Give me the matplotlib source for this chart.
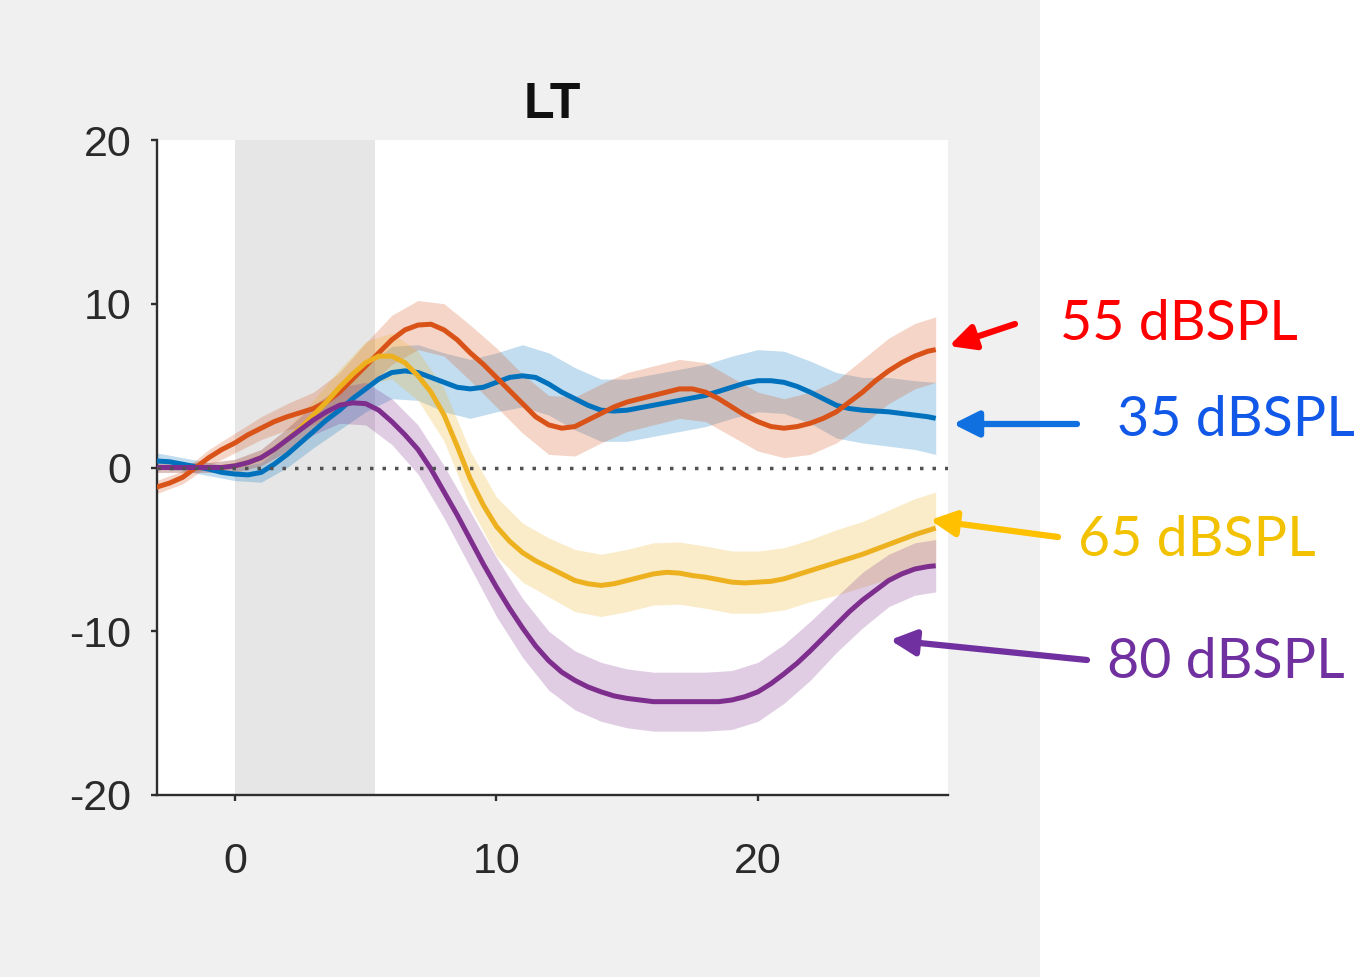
import matplotlib
matplotlib.use("Agg")
import matplotlib.pyplot as plt
import numpy as np
from matplotlib.patches import Rectangle

plt.rcParams["axes.unicode_minus"] = False

# Time axis (ms): mean traces sampled every 0.5 ms, SEM every 1 ms
t_line = list(np.arange(-3, 27, 0.5)) + [26.8]
t_band = list(np.arange(-3, 27, 1.0)) + [26.8]

resp_35 = [0.4, 0.35, 0.2, 0.05, -0.1, -0.3, -0.4, -0.45, -0.3, 0.2,
           0.8, 1.5, 2.2, 2.9, 3.5, 4.2, 4.8, 5.4, 5.8, 5.9,
           5.8, 5.5, 5.2, 4.9, 4.8, 4.9, 5.2, 5.5, 5.6, 5.5,
           5.1, 4.6, 4.2, 3.8, 3.5, 3.45, 3.5, 3.65, 3.8, 3.95,
           4.1, 4.25, 4.4, 4.65, 4.9, 5.15, 5.3, 5.3, 5.2, 4.95,
           4.6, 4.2, 3.8, 3.6, 3.5, 3.45, 3.4, 3.3, 3.2, 3.1,
           3.0]
sem_35 = [0.5, 0.4, 0.4, 0.4, 0.6, 0.8, 1.0, 1.2, 1.4, 1.6, 1.7, 1.8, 1.8, 1.8,
          1.9, 1.9, 1.9, 1.9, 1.9, 1.9, 1.9, 1.9, 1.9, 1.9, 1.9, 1.9, 2.0,
          2.0, 2.1, 2.1, 2.2]

resp_55 = [-1.2, -0.95, -0.6, 0.0, 0.6, 1.1, 1.5, 2.0, 2.4, 2.8,
           3.1, 3.35, 3.6, 4.0, 4.6, 5.4, 6.2, 7.0, 7.8, 8.4,
           8.7, 8.75, 8.4, 7.8, 7.0, 6.3, 5.5, 4.7, 3.9, 3.1,
           2.6, 2.4, 2.5, 2.9, 3.3, 3.7, 4.0, 4.2, 4.4, 4.6,
           4.8, 4.8, 4.6, 4.2, 3.7, 3.2, 2.8, 2.5, 2.4, 2.5,
           2.7, 3.0, 3.4, 4.0, 4.6, 5.3, 5.9, 6.4, 6.8, 7.1,
           7.2]
sem_55 = [0.4, 0.4, 0.5, 0.6, 0.7, 0.8, 1.0, 1.2, 1.4, 1.5, 1.5, 1.6, 1.7, 1.8,
          1.8, 1.8, 1.8, 1.8, 1.8, 1.8, 1.8, 1.8, 1.8, 1.8, 1.8, 1.9, 1.9,
          2.0, 2.0, 2.0, 2.0]

resp_65 = [0.0, 0.0, 0.0, 0.0, 0.0, 0.0, 0.1, 0.3, 0.6, 1.1,
           1.7, 2.4, 3.2, 4.0, 4.9, 5.7, 6.4, 6.8, 6.8, 6.4,
           5.6, 4.6, 3.2, 1.3, -0.7, -2.3, -3.6, -4.5, -5.2, -5.7,
           -6.1, -6.5, -6.9, -7.1, -7.2, -7.1, -6.9, -6.7, -6.5, -6.4,
           -6.45, -6.6, -6.7, -6.85, -7.0, -7.05, -7.0, -6.95, -6.8, -6.55,
           -6.3, -6.05, -5.8, -5.55, -5.3, -5.0, -4.7, -4.4, -4.1, -3.85,
           -3.7]
sem_65 = [0.3, 0.3, 0.3, 0.4, 0.5, 0.7, 0.9, 1.1, 1.3, 1.4, 1.5, 1.6, 1.7, 1.8,
          1.8, 1.8, 1.9, 1.9, 1.9, 1.9, 1.9, 1.9, 1.9, 1.9, 1.9, 1.9, 2.0,
          2.0, 2.1, 2.2, 2.2]

resp_80 = [0.0, 0.0, 0.0, 0.0, 0.0, 0.0, 0.1, 0.3, 0.6, 1.1,
           1.7, 2.3, 2.9, 3.4, 3.8, 3.95, 3.9, 3.5, 2.8, 2.0,
           1.1, -0.1, -1.5, -2.9, -4.4, -5.9, -7.3, -8.6, -9.8, -10.9,
           -11.8, -12.5, -13.0, -13.4, -13.7, -13.95, -14.1, -14.2, -14.3, -14.3,
           -14.3, -14.3, -14.3, -14.3, -14.2, -14.0, -13.7, -13.2, -12.6, -11.95,
           -11.2, -10.4, -9.6, -8.8, -8.1, -7.5, -6.9, -6.5, -6.2, -6.05,
           -6.0]
sem_80 = [0.3, 0.3, 0.3, 0.4, 0.5, 0.7, 0.9, 1.1, 1.3, 1.4, 1.5, 1.6, 1.7, 1.8,
          1.8, 1.8, 1.8, 1.8, 1.8, 1.8, 1.8, 1.8, 1.8, 1.8, 1.8, 1.8, 1.7,
          1.7, 1.6, 1.6, 1.6]

stim_on, stim_off = 0, 5.35
x_ticks = [0, 10, 20]
y_ticks = [-20, -10, 0, 10, 20]

series = [
    (resp_35, sem_35, "#0072BD"),
    (resp_55, sem_55, "#D95319"),
    (resp_65, sem_65, "#EDB120"),
    (resp_80, sem_80, "#7E2F8E"),
]

labels = [
    # text, text pos (px from top-left), arrow tail, arrow tip, text colour, arrow colour
    ("55 dBSPL", (1060, 324), (1015, 324), (949, 346), "#FF0000", "#FF0000"),
    ("35 dBSPL", (1117, 420), (1077, 424), (953, 424), "#1158E8", "#1170E0"),
    ("65 dBSPL", (1078, 540), (1058, 537), (930, 520), "#F2C200", "#FFC000"),
    ("80 dBSPL", (1107, 662), (1087, 660), (890, 640), "#7030A0", "#7030A0"),
]

W, H = 1357, 977
fig = plt.figure(figsize=(W / 100, H / 100), dpi=100, facecolor="#F0F0F0")
fig.patches.append(Rectangle((1040 / W, 0), 1 - 1040 / W, 1,
                             transform=fig.transFigure, facecolor="white",
                             edgecolor="none", zorder=-1))

ax = fig.add_axes([156.5 / W, 1 - 795 / H, (948 - 156.5) / W, (795 - 140) / H])
ax.set_facecolor("white")
ax.axvspan(stim_on, stim_off, color="#E6E6E6", lw=0, zorder=0)

tl = np.array(t_line)
tb = np.array(t_band)
for y, e, c in series:
    y = np.array(y)
    yc = np.append(y[:-1:2], y[-1])
    e = np.array(e)
    ax.fill_between(tb, yc - e, yc + e, color=c, alpha=0.24, lw=0, zorder=1)
for y, e, c in series:
    ax.plot(tl, y, color=c, lw=3.6, solid_capstyle="butt",
            solid_joinstyle="round", zorder=3)

ax.axhline(0, color="#505050", lw=2.5, dashes=(1.0, 2.6), zorder=4)

ax.set_xlim(-3, 27.27)
ax.set_ylim(-20, 20)
ax.set_xticks(x_ticks)
ax.set_yticks(y_ticks)
for s in ("top", "right"):
    ax.spines[s].set_visible(False)
for s in ("left", "bottom"):
    ax.spines[s].set_color("#2E2E2E")
    ax.spines[s].set_linewidth(1.7)
ax.tick_params(axis="both", direction="out", length=4, width=1.7,
               color="#2E2E2E", labelsize=31, labelcolor="#2A2A2A")
ax.tick_params(axis="x", pad=30)
ax.tick_params(axis="y", pad=14)
for lab in ax.get_xticklabels() + ax.get_yticklabels():
    lab.set_family("Liberation Sans")

ax.set_title("LT", fontsize=36, fontweight="bold", family="Liberation Sans",
             color="#111111", pad=16)

for text, (tx, ty), tail, tip, tc, ac in labels:
    fig.text(tx / W, 1 - ty / H, text, ha="left", va="center", fontsize=40,
             family="Lato", color=tc)
    ax.annotate("", xy=(tip[0], H - tip[1]), xycoords="figure pixels",
                xytext=(tail[0], H - tail[1]), textcoords="figure pixels",
                arrowprops=dict(arrowstyle="-|>", lw=4.5, color=ac,
                                mutation_scale=38, shrinkA=0, shrinkB=0),
                annotation_clip=False)

fig.savefig("out.png", dpi=100, facecolor=fig.get_facecolor())
